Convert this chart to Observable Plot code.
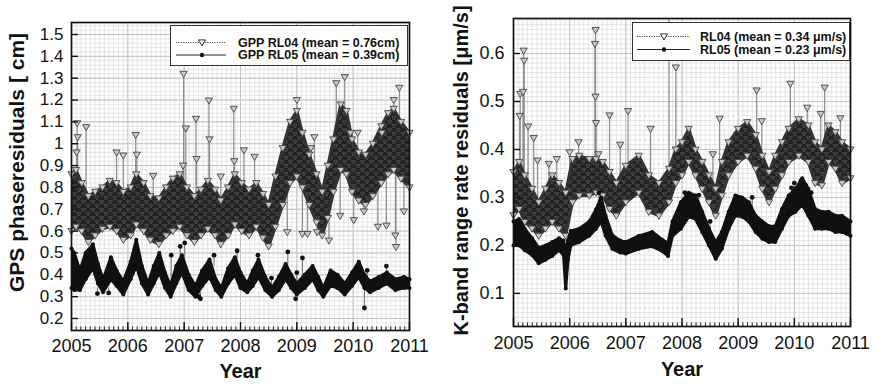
<!DOCTYPE html>
<html><head><meta charset="utf-8">
<script src="https://cdn.jsdelivr.net/npm/d3@7"></script>
<script src="https://cdn.jsdelivr.net/npm/@observablehq/plot@0.6"></script>
<style>
body{margin:0;background:#fff;font-family:"Liberation Sans",Arial,sans-serif;}
#wrap{position:relative;width:875px;height:391px;overflow:hidden;}
.panel{position:absolute;top:0;}
.legend{position:absolute;box-sizing:border-box;border:1px solid #333;background:#fff;font-weight:bold;font-size:12.5px;color:#111;}
.legend span{position:absolute;white-space:nowrap;line-height:1;}
.legend svg{position:absolute;left:0;top:0;}
</style></head><body><div id="wrap"></div><script>
// ---------- axes ----------
const years = [2005, 2006, 2007, 2008, 2009, 2010, 2011];
const gpsTicks = [0.2,0.3,0.4,0.5,0.6,0.7,0.8,0.9,1,1.1,1.2,1.3,1.4,1.5];
const gpsTickLabels = ["0.2","0.3","0.4","0.5","0.6","0.7","0.8","0.9","1","1.1","1.2","1.3","1.4","1.5"];
const kbrTicks = [0.1,0.2,0.3,0.4,0.5,0.6];
const kbrTickLabels = ["0.1","0.2","0.3","0.4","0.5","0.6"];
const gpsYLabel = "GPS phaseresiduals [ cm]";
const kbrYLabel = "K-band range rate residuals [\u03bcm/s]";
const xLabel = "Year";
const gpsLegend = ["GPP RL04 (mean = 0.76cm)", "GPP RL05 (mean = 0.39cm)"];
const kbrLegend = ["RL04 (mean = 0.34 \u03bcm/s)", "RL05 (mean = 0.23 \u03bcm/s)"];

// ---------- GPS RL04 (envelope of the daily cloud) ----------
const gpsT04  = [2005.00,2005.08,2005.18,2005.30,2005.42,2005.55,2005.68,2005.80,2005.92,2006.05,2006.15,2006.28,2006.40,2006.55,2006.68,2006.80,2006.92,2007.05,2007.18,2007.30,2007.42,2007.55,2007.65,2007.78,2007.90,2008.02,2008.15,2008.28,2008.40,2008.50,2008.62,2008.75,2008.88,2009.00,2009.10,2009.22,2009.35,2009.45,2009.55,2009.65,2009.78,2009.88,2009.98,2010.10,2010.22,2010.35,2010.50,2010.62,2010.72,2010.85,2011.00];
const gpsLo04 = [0.60,0.62,0.60,0.55,0.58,0.61,0.62,0.60,0.56,0.58,0.63,0.60,0.56,0.54,0.58,0.60,0.62,0.58,0.55,0.58,0.61,0.58,0.54,0.58,0.63,0.60,0.58,0.62,0.57,0.53,0.62,0.72,0.82,0.85,0.80,0.72,0.64,0.58,0.66,0.78,0.88,0.86,0.78,0.74,0.72,0.76,0.82,0.86,0.88,0.84,0.80];
const gpsHi04 = [0.86,0.88,0.82,0.76,0.78,0.80,0.83,0.82,0.78,0.80,0.86,0.82,0.76,0.75,0.80,0.84,0.86,0.80,0.76,0.79,0.83,0.79,0.74,0.80,0.86,0.82,0.79,0.82,0.77,0.72,0.85,0.98,1.10,1.15,1.05,0.95,0.86,0.78,0.90,1.02,1.18,1.15,1.02,0.96,0.95,1.00,1.08,1.14,1.16,1.10,1.05];
// single-day excursions: time, level they leave the cloud at, value
const gpsSpikeT04 = [2005.10,2005.11,2005.09,2005.26,2005.80,2005.92,2006.14,2006.16,2006.45,2006.99,2007.03,2006.98,2007.21,2007.22,2007.44,2007.45,2007.65,2007.88,2007.89,2008.06,2008.25,2009.00,2009.25,2009.31,2009.70,2009.85,2009.95,2010.08,2010.51,2010.72,2010.82,2008.83,2009.10,2009.19,2009.36,2009.57,2009.77,2010.01,2010.19,2010.44,2010.59,2010.75,2010.76,2010.90];
const gpsSpikeB04 = [0.85,0.85,0.85,0.78,0.80,0.78,0.85,0.85,0.76,0.82,0.80,0.80,0.77,0.77,0.82,0.82,0.74,0.84,0.84,0.80,0.80,1.12,0.92,0.86,1.00,1.15,1.00,0.95,0.95,1.15,1.10,0.78,0.82,0.75,0.68,0.68,0.90,0.80,0.74,0.80,0.86,0.88,0.88,0.85];
const gpsSpikeV04 = [1.094,1.03,0.96,1.076,0.96,0.946,1.04,0.95,0.853,1.32,1.07,0.90,1.114,0.93,1.198,1.02,0.85,1.16,0.92,0.97,0.94,1.20,0.98,1.03,1.277,1.305,1.05,1.05,1.05,1.20,1.256,0.595,0.587,0.587,0.595,0.557,0.67,0.65,0.69,0.62,0.625,0.58,0.527,0.69];

// ---------- GPS RL05 ----------
const gpsT05  = [2005.00,2005.05,2005.15,2005.25,2005.38,2005.47,2005.56,2005.70,2005.80,2005.92,2006.05,2006.15,2006.25,2006.36,2006.46,2006.56,2006.66,2006.76,2006.86,2006.96,2007.08,2007.20,2007.32,2007.45,2007.56,2007.66,2007.78,2007.90,2008.00,2008.12,2008.22,2008.32,2008.44,2008.56,2008.68,2008.80,2008.90,2009.00,2009.14,2009.28,2009.38,2009.47,2009.60,2009.72,2009.85,2009.98,2010.10,2010.20,2010.30,2010.45,2010.60,2010.75,2010.90,2011.00];
const gpsLo05 = [0.34,0.33,0.33,0.38,0.43,0.36,0.32,0.38,0.35,0.31,0.38,0.44,0.36,0.31,0.36,0.41,0.34,0.30,0.36,0.41,0.33,0.30,0.35,0.39,0.33,0.30,0.36,0.40,0.34,0.32,0.35,0.39,0.33,0.30,0.33,0.38,0.34,0.31,0.34,0.38,0.33,0.30,0.35,0.34,0.31,0.35,0.39,0.34,0.32,0.34,0.36,0.33,0.34,0.34];
const gpsHi05 = [0.52,0.50,0.42,0.50,0.54,0.45,0.38,0.48,0.42,0.37,0.46,0.56,0.44,0.36,0.44,0.50,0.41,0.35,0.44,0.49,0.40,0.35,0.42,0.47,0.38,0.34,0.43,0.48,0.41,0.36,0.42,0.47,0.39,0.34,0.39,0.45,0.40,0.36,0.40,0.44,0.39,0.34,0.42,0.40,0.36,0.41,0.46,0.40,0.37,0.39,0.41,0.38,0.39,0.38];
const gpsOutT05 = [2005.46,2005.66,2006.77,2006.93,2007.01,2007.26,2007.29,2007.53,2007.94,2008.31,2008.55,2008.84,2008.98,2009.00,2009.10,2009.91,2010.20,2010.25,2010.59];
const gpsOutB05 = [0.34,0.34,0.36,0.46,0.44,0.32,0.32,0.44,0.46,0.45,0.33,0.43,0.32,0.35,0.38,0.34,0.35,0.36,0.40];
const gpsOutV05 = [0.314,0.317,0.49,0.53,0.546,0.30,0.29,0.49,0.51,0.49,0.385,0.505,0.29,0.41,0.477,0.37,0.248,0.42,0.44];

// ---------- K-band RL04 ----------
const kbrT04  = [2005.00,2005.10,2005.20,2005.33,2005.45,2005.57,2005.69,2005.81,2005.93,2006.05,2006.17,2006.35,2006.47,2006.59,2006.71,2006.83,2007.00,2007.23,2007.41,2007.59,2007.77,2007.89,2008.00,2008.12,2008.24,2008.36,2008.48,2008.60,2008.71,2008.83,2009.00,2009.16,2009.31,2009.43,2009.55,2009.66,2009.78,2009.90,2010.08,2010.25,2010.37,2010.49,2010.61,2010.73,2010.85,2011.00];
const kbrLo04 = [0.263,0.276,0.249,0.235,0.220,0.235,0.249,0.235,0.220,0.290,0.304,0.304,0.310,0.304,0.276,0.262,0.290,0.310,0.270,0.262,0.290,0.330,0.346,0.374,0.346,0.318,0.290,0.262,0.304,0.346,0.374,0.387,0.360,0.318,0.290,0.318,0.346,0.374,0.387,0.374,0.330,0.325,0.374,0.360,0.330,0.340];
const kbrHi04 = [0.353,0.374,0.346,0.318,0.290,0.318,0.346,0.330,0.310,0.380,0.387,0.380,0.380,0.374,0.353,0.330,0.366,0.387,0.346,0.330,0.360,0.400,0.415,0.443,0.400,0.374,0.346,0.318,0.374,0.415,0.443,0.457,0.430,0.387,0.353,0.387,0.415,0.443,0.463,0.450,0.415,0.400,0.450,0.436,0.415,0.400];
const kbrSpikeT04 = [2005.11,2005.12,2005.17,2005.18,2005.19,2005.26,2005.36,2005.43,2005.63,2005.77,2006.00,2006.16,2006.45,2006.46,2006.46,2006.47,2006.51,2006.71,2006.90,2007.04,2007.44,2007.77,2007.89,2008.55,2008.67,2009.33,2009.42,2009.93,2010.23,2010.47,2010.54,2010.82];
const kbrSpikeB04 = [0.36,0.36,0.35,0.35,0.35,0.33,0.31,0.29,0.32,0.33,0.34,0.38,0.38,0.38,0.38,0.38,0.37,0.35,0.33,0.36,0.34,0.36,0.40,0.33,0.34,0.42,0.38,0.44,0.44,0.40,0.42,0.41];
const kbrSpikeV04 = [0.47,0.516,0.52,0.606,0.585,0.448,0.424,0.377,0.37,0.38,0.394,0.415,0.62,0.649,0.51,0.455,0.39,0.471,0.41,0.48,0.443,0.72,0.571,0.39,0.464,0.523,0.459,0.537,0.487,0.474,0.529,0.465];

// ---------- K-band RL05 ----------
const kbrT05  = [2005.00,2005.10,2005.20,2005.33,2005.45,2005.57,2005.69,2005.81,2005.89,2005.93,2005.97,2006.02,2006.17,2006.35,2006.47,2006.56,2006.64,2006.76,2006.90,2007.00,2007.23,2007.47,2007.65,2007.75,2007.83,2007.98,2008.12,2008.24,2008.36,2008.48,2008.60,2008.71,2008.83,2008.95,2009.07,2009.19,2009.31,2009.43,2009.55,2009.66,2009.78,2009.90,2010.02,2010.14,2010.25,2010.37,2010.49,2010.61,2010.73,2010.85,2011.00];
const kbrLo05 = [0.200,0.200,0.190,0.180,0.163,0.170,0.178,0.190,0.180,0.110,0.170,0.200,0.207,0.220,0.235,0.250,0.220,0.193,0.185,0.183,0.193,0.198,0.188,0.178,0.220,0.235,0.260,0.255,0.228,0.200,0.172,0.193,0.235,0.262,0.260,0.250,0.228,0.214,0.207,0.207,0.235,0.262,0.270,0.285,0.262,0.235,0.235,0.235,0.228,0.228,0.220];
const kbrHi05 = [0.250,0.255,0.235,0.215,0.195,0.200,0.207,0.215,0.210,0.190,0.210,0.230,0.235,0.250,0.275,0.300,0.262,0.221,0.210,0.207,0.220,0.228,0.212,0.205,0.250,0.290,0.310,0.304,0.270,0.235,0.207,0.228,0.270,0.304,0.300,0.290,0.262,0.250,0.240,0.240,0.276,0.304,0.318,0.340,0.318,0.276,0.270,0.270,0.262,0.262,0.250];
const kbrOutT05 = [2006.52,2008.05,2008.30,2009.25,2009.95,2010.00,2010.12,2010.20,2010.30,2008.50];
const kbrOutB05 = [0.27,0.28,0.28,0.27,0.29,0.30,0.31,0.30,0.28,0.22];
const kbrOutV05 = [0.31,0.31,0.305,0.30,0.32,0.33,0.335,0.325,0.31,0.25];

// ---------- drawing ----------
const FONT = '"Liberation Sans", Arial, Helvetica, sans-serif';
const triDown = {
  draw(ctx, size) {
    const r = Math.sqrt(size / Math.PI);
    ctx.moveTo(-r, -r * 0.7);
    ctx.lineTo(r, -r * 0.7);
    ctx.lineTo(0, r);
    ctx.closePath();
  }
};
const zip3 = (t, a, b, ka, kb) => t.map((d, i) => ({t: d, [ka]: a[i], [kb]: b[i]}));

function panel(o) {
  const [y0, y1] = o.yDomain;
  const fh = o.height - o.marginTop - o.marginBottom;
  const perPx = (y1 - y0) / fh;
  const months = d3.range(0, 73).map(i => 2005 + i / 12);
  const minorY = d3.range(Math.ceil(y0 / o.minorStep), Math.floor(y1 / o.minorStep) + 1).map(i => +(i * o.minorStep).toFixed(4));
  const r04 = zip3(o.t04, o.lo04, o.hi04, "lo", "hi");
  const r05 = zip3(o.t05, o.lo05, o.hi05, "lo", "hi");
  const s04 = zip3(o.sT, o.sB, o.sV, "base", "v");
  const s05 = zip3(o.oT, o.oB, o.oV, "base", "v");
  const tri = {symbol: triDown, r: 3.6, stroke: "#444", strokeWidth: 0.9, fill: "#c8c8c8"};
  const svg = Plot.plot({
    width: o.width, height: o.height,
    marginLeft: o.marginLeft, marginRight: o.marginRight, marginTop: o.marginTop, marginBottom: o.marginBottom,
    x: {domain: [2005, 2011]},
    y: {domain: o.yDomain},
    style: {fontFamily: FONT, fontSize: "16px", color: "#111", background: "white", overflow: "visible"},
    marks: [
      Plot.ruleX(months, {stroke: "#dedede", strokeWidth: 0.8}),
      Plot.ruleY(minorY, {stroke: "#dedede", strokeWidth: 0.8}),
      Plot.ruleX(years, {stroke: "#c4c4c4", strokeWidth: 1}),
      Plot.ruleY(o.ticks, {stroke: "#c4c4c4", strokeWidth: 1}),
      // RL04: spikes, cloud, markers
      Plot.ruleX(s04, {x: "t", y1: "base", y2: "v", stroke: "#8c8c8c", strokeWidth: 1.2, clip: true}),
      Plot.areaY(r04, {x: "t", y1: "lo", y2: "hi", fill: `url(#${o.id}-speck)`, clip: true}),
      Plot.line(r04, {x: "t", y: "hi", stroke: "#333", strokeWidth: 3, clip: true}),
      Plot.line(r04, {x: "t", y: "lo", stroke: "#333", strokeWidth: 3, clip: true}),
      Plot.dot(r04, {x: "t", y: "hi", ...tri}),
      Plot.dot(r04, {x: "t", y: "lo", ...tri}),
      Plot.dot(s04, {x: "t", y: "v", ...tri, clip: true}),
      // RL05
      Plot.ruleX(s05, {x: "t", y1: "base", y2: "v", stroke: "#777", strokeWidth: 1.1}),
      Plot.areaY(r05, {x: "t", y1: "lo", y2: "hi", fill: "#101010"}),
      Plot.line(r05, {x: "t", y: "hi", stroke: "#101010", strokeWidth: 3}),
      Plot.line(r05, {x: "t", y: "lo", stroke: "#101010", strokeWidth: 3}),
      Plot.dot(r05, {x: "t", y: "hi", r: 2, fill: "#101010"}),
      Plot.dot(r05, {x: "t", y: "lo", r: 2, fill: "#101010"}),
      Plot.dot(s05, {x: "t", y: "v", r: 2.4, fill: "#101010"}),
      // inward ticks
      Plot.ruleX(months, {y1: y0, y2: y0 + 3.5 * perPx, stroke: "#222", strokeWidth: 1}),
      Plot.ruleX(years, {y1: y0, y2: y0 + 8 * perPx, stroke: "#111", strokeWidth: 1.4}),
      Plot.ruleY(o.ticks, {x1: 2005, x2: 2005 + 7 * 6 / (o.width - o.marginLeft - o.marginRight), stroke: "#111", strokeWidth: 1.4}),
      Plot.frame({stroke: "#111", strokeWidth: 1.7}),
      Plot.axisX({ticks: years, tickSize: 0, tickPadding: o.xPad, tickFormat: "d", fontSize: 18, label: null}),
      Plot.axisY({ticks: o.ticks, tickSize: 0, tickPadding: o.yPad, tickFormat: d => o.tickLabels[o.ticks.indexOf(d)], fontSize: o.yFont, label: null}),
      Plot.text([o.yLabel], {frameAnchor: "left", dx: o.ylDx, dy: o.ylDy, rotate: -90, textAnchor: "middle", fontSize: o.ylFont, fontWeight: "bold", fill: "#111"}),
      Plot.text([xLabel], {frameAnchor: "bottom", dy: o.xlDy, textAnchor: "middle", fontSize: 20, fontWeight: "bold", fill: "#111"})
    ]
  });
  const svgNS = "http://www.w3.org/2000/svg";
  const defs = document.createElementNS(svgNS, "defs");
  defs.innerHTML = `<pattern id="${o.id}-speck" width="9" height="8" patternUnits="userSpaceOnUse">` +
    `<rect width="9" height="8" fill="#232323"/>` +
    `<path d="M0.5,0.8h4l-2,3.4z M5,4.6h4l-2,3.4z" fill="none" stroke="#555" stroke-width="0.8"/></pattern>`;
  svg.insertBefore(defs, svg.firstChild);
  return svg;
}

function legend(labels, box) {
  const div = document.createElement("div");
  div.className = "legend";
  Object.assign(div.style, {left: box.x + "px", top: box.y + "px", width: box.w + "px", height: box.h + "px"});
  const svgNS = "http://www.w3.org/2000/svg";
  const svg = document.createElementNS(svgNS, "svg");
  svg.setAttribute("width", box.w); svg.setAttribute("height", box.h);
  const r1 = box.rows[0], r2 = box.rows[1];
  svg.innerHTML =
    `<line x1="${box.l0}" x2="${box.l1}" y1="${r1}" y2="${r1}" stroke="#444" stroke-width="1" stroke-dasharray="1.2,1.2"/>` +
    `<path d="M${box.m - 3.5},${r1 - 2.6}L${box.m + 3.5},${r1 - 2.6}L${box.m},${r1 + 3.4}Z" fill="#fff" stroke="#333" stroke-width="1"/>` +
    `<line x1="${box.l0}" x2="${box.l1}" y1="${r2}" y2="${r2}" stroke="#222" stroke-width="1.2"/>` +
    `<circle cx="${box.m}" cy="${r2}" r="2.2" fill="#111"/>`;
  div.appendChild(svg);
  labels.forEach((t, i) => {
    const s = document.createElement("span");
    s.textContent = t;
    s.style.left = box.tx + "px";
    s.style.top = (box.rows[i] - 6) + "px";
    div.appendChild(s);
  });
  return div;
}

const wrap = document.getElementById("wrap");

const left = panel({
  id: "gps",
  width: 437, height: 391, marginLeft: 71, marginRight: 28, marginTop: 22, marginBottom: 61,
  yDomain: [0.145, 1.555], ticks: gpsTicks, tickLabels: gpsTickLabels, minorStep: 0.02,
  t04: gpsT04, lo04: gpsLo04, hi04: gpsHi04, sT: gpsSpikeT04, sB: gpsSpikeB04, sV: gpsSpikeV04,
  t05: gpsT05, lo05: gpsLo05, hi05: gpsHi05, oT: gpsOutT05, oB: gpsOutB05, oV: gpsOutV05,
  yLabel: gpsYLabel, ylDx: -54, ylDy: -14, ylFont: 21, xPad: 9, yPad: 8, yFont: 17, xlDy: 47
});
left.classList.add("panel"); left.style.left = "0px";
wrap.appendChild(left);

const right = panel({
  id: "kbr",
  width: 438, height: 391, marginLeft: 76, marginRight: 25, marginTop: 18, marginBottom: 65,
  yDomain: [0.031, 0.673], ticks: kbrTicks, tickLabels: kbrTickLabels, minorStep: 0.01,
  t04: kbrT04, lo04: kbrLo04, hi04: kbrHi04, sT: kbrSpikeT04, sB: kbrSpikeB04, sV: kbrSpikeV04,
  t05: kbrT05, lo05: kbrLo05, hi05: kbrHi05, oT: kbrOutT05, oB: kbrOutB05, oV: kbrOutV05,
  yLabel: kbrYLabel, ylDx: -52, ylDy: -2, ylFont: 20, xPad: 10, yPad: 9, yFont: 18, xlDy: 49
});
right.classList.add("panel"); right.style.left = "437px";
wrap.appendChild(right);

wrap.appendChild(legend(gpsLegend, {x: 170, y: 25, w: 238, h: 41, rows: [16.5, 29], l0: 5, l1: 55, m: 31, tx: 67}));
wrap.appendChild(legend(kbrLegend, {x: 632, y: 22, w: 218, h: 39, rows: [13.5, 26.5], l0: 4, l1: 57, m: 31, tx: 67}));
</script></body></html>
